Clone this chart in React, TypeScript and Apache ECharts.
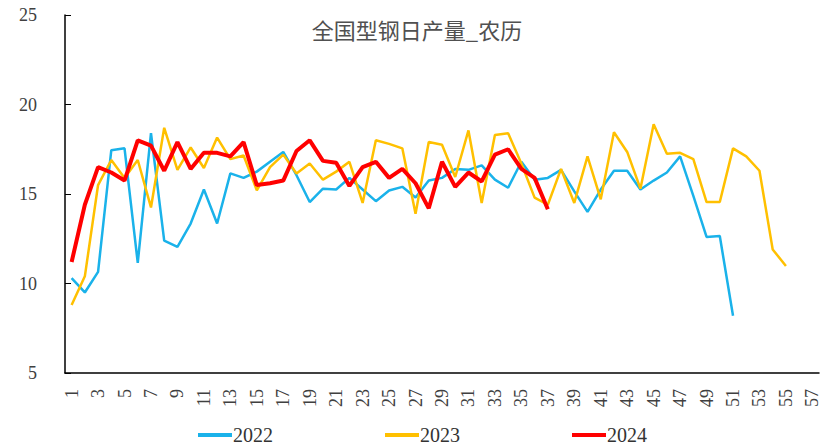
import React, { useEffect, useRef } from "react";
import * as echarts from "echarts";

// Week index on the lunar calendar (1..57)
const weeks: string[] = Array.from({ length: 57 }, (_, i) => String(i + 1));

const yearNames = ["2022", "2023", "2024"];

const output2022: number[] = [
  10.3, 9.5, 10.65, 17.45, 17.55, 11.15, 18.4, 12.4, 12.05, 13.35,
  15.25, 13.35, 16.15, 15.9, 16.25, 16.8, 17.35, 16.05, 14.55, 15.3,
  15.25, 15.9, 15.25, 14.6, 15.2, 15.4, 14.8, 15.75, 15.9, 16.4,
  16.35, 16.6, 15.8, 15.35, 16.8, 15.8, 15.9, 16.35, 15.15, 14.0,
  15.25, 16.3, 16.3, 15.25, 15.75, 16.2, 17.1, 14.9, 12.6, 12.65,
  8.2,
];

const output2023: number[] = [
  8.8, 10.4, 15.5, 16.9, 15.9, 16.9, 14.25, 18.7, 16.35, 17.6,
  16.45, 18.15, 16.95, 17.15, 15.2, 16.5, 17.2, 16.15, 16.7, 15.8,
  16.25, 16.8, 14.5, 18.0, 17.8, 17.55, 13.9, 17.9, 17.75, 15.95,
  18.55, 14.5, 18.3, 18.4, 16.7, 14.8, 14.4, 16.4, 14.5, 17.1,
  14.7, 18.45, 17.35, 15.3, 18.9, 17.25, 17.3, 16.95, 14.55, 14.55,
  17.55, 17.1, 16.3, 11.9, 10.98,
];

const output2024: number[] = [
  11.2, 14.4, 16.5, 16.2, 15.75, 18.0, 17.7, 16.3, 17.9, 16.4,
  17.3, 17.3, 17.1, 17.9, 15.5, 15.6, 15.75, 17.4, 18.0, 16.85,
  16.75, 15.45, 16.5, 16.8, 15.9, 16.4, 15.6, 14.2, 16.8, 15.4,
  16.2, 15.7, 17.2, 17.5, 16.4, 15.9, 14.15,
];

const seriesColors = ["#1AB2EA", "#FFC000", "#FF0000"];
const seriesWidths = [2.5, 2.5, 4];
const seriesData = [output2022, output2023, output2024];

const serif = "'Liberation Serif', 'Times New Roman', serif";

export default function App() {
  const ref = useRef<HTMLDivElement>(null);

  useEffect(() => {
    if (!ref.current) return;
    const chart = echarts.init(ref.current, undefined, { renderer: "svg" });
    chart.setOption({
      animation: false,
      backgroundColor: "#ffffff",
      title: {
        text: "全国型钢日产量_农历",
        left: 412,
        top: 13,
        textAlign: "center",
        textStyle: {
          fontFamily: "'Noto Sans CJK SC', sans-serif",
          fontSize: 22,
          fontWeight: "normal",
          color: "#505050",
        },
      },
      legend: {
        left: 193,
        top: 420,
        itemWidth: 34,
        itemHeight: 4,
        itemGap: 112,
        icon: "rect",
        data: yearNames,
        textStyle: { fontFamily: serif, fontSize: 20, color: "#333333", padding: [0, 0, 0, -4] },
      },
      grid: { left: 65, right: 13, top: 15, bottom: 74, containLabel: false },
      xAxis: {
        type: "category",
        data: weeks,
        boundaryGap: true,
        axisLine: { lineStyle: { color: "#000000", width: 1.5 } },
        axisTick: {
          inside: true,
          length: 6,
          interval: 0,
          alignWithLabel: false,
          lineStyle: { color: "#000000" },
        },
        axisLabel: {
          interval: 1,
          rotate: 90,
          margin: 16,
          fontFamily: serif,
          fontSize: 18,
          color: "#404040",
        },
        splitLine: { show: false },
      },
      yAxis: {
        type: "value",
        min: 5,
        max: 25,
        interval: 5,
        axisLine: { show: true, lineStyle: { color: "#000000", width: 1.5 } },
        axisTick: { show: true, inside: true, length: 6, lineStyle: { color: "#000000" } },
        axisLabel: { margin: 28, fontFamily: serif, fontSize: 18, color: "#404040" },
        splitLine: { show: false },
      },
      series: yearNames.map((name, i) => ({
        name,
        type: "line",
        data: seriesData[i],
        showSymbol: false,
        symbol: "none",
        color: seriesColors[i],
        lineStyle: { color: seriesColors[i], width: seriesWidths[i] },
        z: i + 2,
      })),
    });
    return () => chart.dispose();
  }, []);

  return (
    <div
      ref={ref}
      style={{ position: "fixed", left: 0, top: 0, width: 832, height: 447 }}
    />
  );
}
